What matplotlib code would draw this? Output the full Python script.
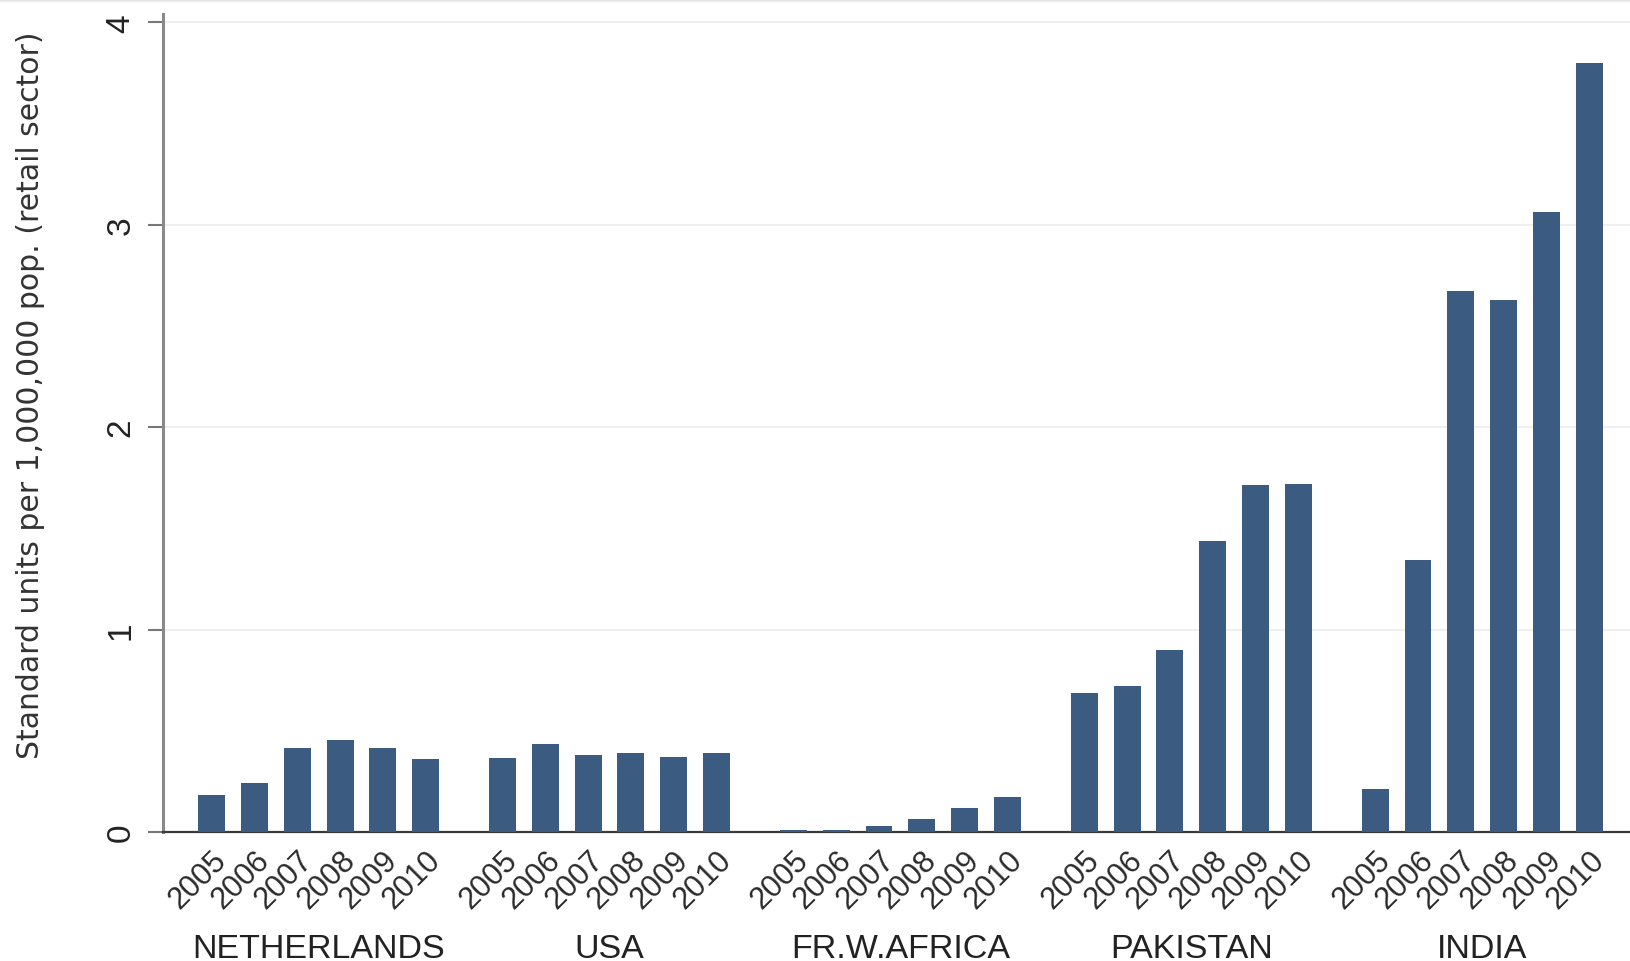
import numpy as np
import matplotlib
matplotlib.use("Agg")
import matplotlib.pyplot as plt
from matplotlib.patches import Rectangle
from matplotlib.transforms import blended_transform_factory

countries = ["NETHERLANDS", "USA", "FR.W.AFRICA", "PAKISTAN", "INDIA"]
years = ["2005", "2006", "2007", "2008", "2009", "2010"]

netherlands = [0.185, 0.24, 0.415, 0.455, 0.415, 0.36]
usa = [0.365, 0.435, 0.38, 0.39, 0.37, 0.39]
fr_w_africa = [0.012, 0.012, 0.03, 0.066, 0.12, 0.175]
pakistan = [0.688, 0.724, 0.90, 1.44, 1.715, 1.72]
india = [0.215, 1.345, 2.67, 2.63, 3.065, 3.80]

values = [netherlands, usa, fr_w_africa, pakistan, india]

bar_color = "#3b5b81"
group_step = 6.8

fig = plt.figure(figsize=(16.31, 9.62), dpi=100)
ax = fig.add_axes([0.0999, 0.134, 0.9001, 0.8503])

xs, hs, labels = [], [], []
for g, series in enumerate(values):
    for i, v in enumerate(series):
        xs.append(g * group_step + i)
        hs.append(v)
        labels.append(years[i])
xs = np.array(xs)

ax.bar(xs, hs, width=0.63, color=bar_color, zorder=3)

ax.set_xlim(-1.14, 4 * group_step + 5 + 0.98)
ax.set_ylim(0, 4.04)

# faint horizontal grid
ax.set_yticks([0, 1, 2, 3, 4])
ax.set_yticklabels(["0", "1", "2", "3", "4"], rotation=90, va="center",
                   fontsize=24, family="Liberation Sans", color="#222222")
ax.yaxis.grid(True, color="#ececec", lw=1.2, zorder=0)
ax.tick_params(axis="y", length=11, width=1.5, color="#777777", pad=8)

ax.set_xticks(xs)
ax.set_xticklabels(labels, rotation=45, ha="right", rotation_mode="anchor",
                   fontsize=22, family="Liberation Sans", color="#2a2a2a")
ax.tick_params(axis="x", length=0, pad=9)

for s in ["top", "right"]:
    ax.spines[s].set_visible(False)
ax.spines["left"].set_color("#8a8a8a")
ax.spines["left"].set_linewidth(2.2)
ax.spines["bottom"].set_color("#3a3a3a")
ax.spines["bottom"].set_linewidth(1.6)

# country names under each group
trans = blended_transform_factory(ax.transData, fig.transFigure)
for g, name in enumerate(countries):
    ax.text(g * group_step + 2.5, 0.004, name, transform=trans,
            ha="center", va="baseline", fontsize=24.5,
            family="Liberation Sans", color="#222222", clip_on=False)

fig.text(0.019, 0.589, "Standard units per 1,000,000 pop. (retail sector)",
         rotation=90, ha="center", va="center", fontsize=21.5,
         family="DejaVu Sans", color="#333333")

# soft grey edge along the top
for k, a in enumerate([0.35, 0.22, 0.12, 0.05]):
    fig.add_artist(Rectangle((0, 1 - (k + 1) / 962), 1, 1 / 962,
                             transform=fig.transFigure, color="#888888",
                             alpha=a, lw=0))

fig.savefig("out.png", dpi=100)
